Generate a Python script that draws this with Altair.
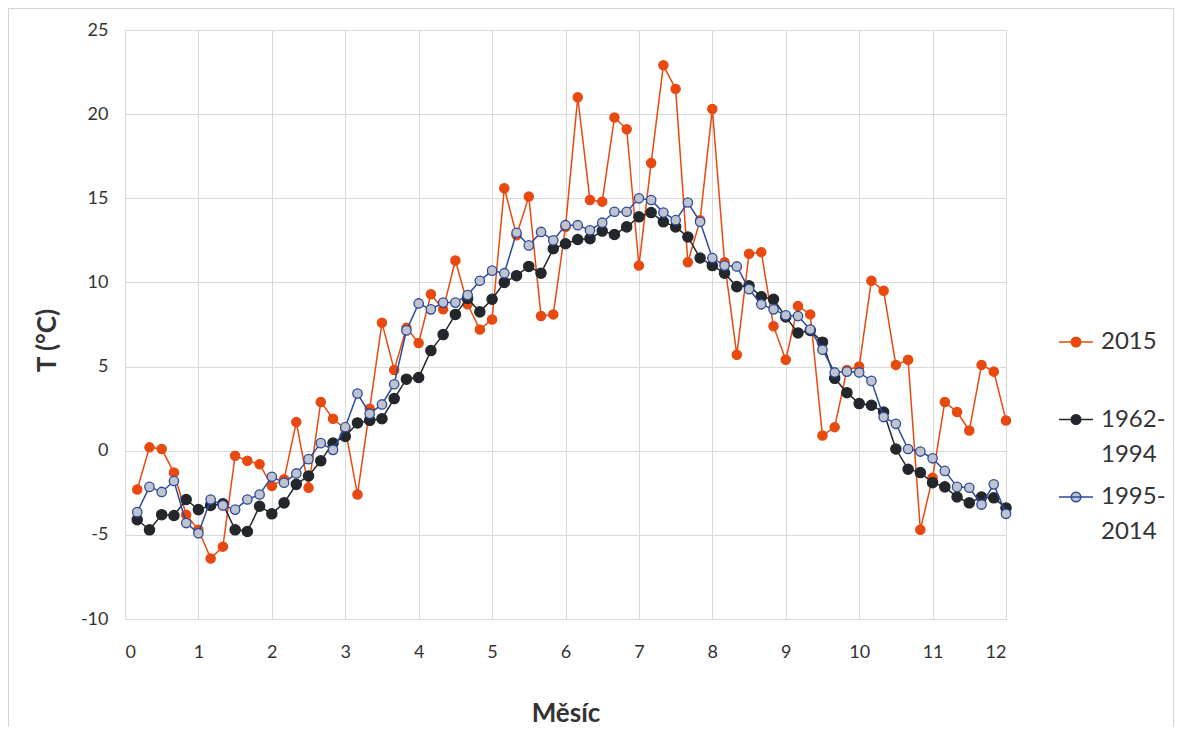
import altair as alt
import pandas as pd

# pentad positions (month units)
months = [k / 6 for k in range(1, 73)]

t_2015 = [-2.3, 0.2, 0.1, -1.3, -3.8, -4.7, -6.4, -5.7, -0.3, -0.6,
          -0.8, -2.1, -1.7, 1.7, -2.2, 2.9, 1.9, 1.3, -2.6, 2.5,
          7.6, 4.8, 7.3, 6.4, 9.3, 8.4, 11.3, 8.7, 7.2, 7.8,
          15.6, 12.8, 15.1, 8.0, 8.1, 13.3, 21.0, 14.9, 14.8, 19.8,
          19.1, 11.0, 17.1, 22.9, 21.5, 11.2, 13.7, 20.3, 11.2, 5.7,
          11.7, 11.8, 7.4, 5.4, 8.6, 8.1, 0.9, 1.4, 4.8, 5.0,
          10.1, 9.5, 5.1, 5.4, -4.7, -1.6, 2.9, 2.3, 1.2, 5.1,
          4.7, 1.8]

t_1962_1994 = [-4.1, -4.7, -3.8, -3.85, -2.9, -3.5, -3.25, -3.15, -4.7, -4.8,
               -3.3, -3.75, -3.1, -2.0, -1.5, -0.6, 0.45, 0.85, 1.65, 1.8,
               1.9, 3.1, 4.25, 4.35, 5.95, 6.9, 8.1, 9.05, 8.25, 9.0,
               10.0, 10.4, 10.95, 10.55, 12.0, 12.3, 12.55, 12.6, 13.05, 12.85,
               13.3, 13.9, 14.15, 13.6, 13.3, 12.7, 11.45, 11.0, 10.55, 9.75,
               9.8, 9.15, 9.0, 7.95, 7.0, 7.15, 6.45, 4.3, 3.45, 2.8,
               2.7, 2.3, 0.1, -1.1, -1.3, -1.9, -2.15, -2.75, -3.1, -2.75,
               -2.8, -3.4]

t_1995_2014 = [-3.65, -2.15, -2.45, -1.8, -4.3, -4.9, -2.9, -3.25, -3.5, -2.9,
               -2.6, -1.55, -1.9, -1.35, -0.5, 0.45, 0.05, 1.4, 3.4, 2.2,
               2.75, 3.95, 7.15, 8.75, 8.4, 8.8, 8.8, 9.25, 10.1, 10.7,
               10.55, 12.95, 12.2, 13.0, 12.5, 13.4, 13.4, 13.1, 13.55, 14.2,
               14.2, 15.0, 14.9, 14.15, 13.7, 14.75, 13.6, 11.45, 11.0, 10.95,
               9.6, 8.7, 8.4, 8.05, 8.0, 7.2, 6.0, 4.65, 4.7, 4.65,
               4.15, 2.0, 1.6, 0.1, -0.05, -0.45, -1.2, -2.15, -2.2, -3.2,
               -2.0, -3.75]

series_names = ["2015", "1962-1994", "1995-2014"]
line_colors = ["#E8490F", "#23272B", "#2C4A9C"]
fill_colors = ["#E8490F", "#23272B", "#BFC3CD"]
point_sizes = [85, 105, 88]
x_ticks = list(range(0, 13))
y_ticks = list(range(-10, 26, 5))

rows = []
for name, vals in zip(series_names, [t_2015, t_1962_1994, t_1995_2014]):
    for m, v in zip(months, vals):
        rows.append({"month": m, "t": v, "series": name})
df = pd.DataFrame(rows)

FONT = "Lato"
TEXT = "#333333"
GRID = "#D9D9D9"

# line + circle legend glyph
SYMBOL = "M-1,0L1,0M-0.28,0A0.28,0.28,0,1,1,0.28,0A0.28,0.28,0,1,1,-0.28,0Z"

legend = alt.Legend(
    title=None, orient="none", legendX=933, legendY=294, direction="vertical",
    symbolType=SYMBOL, symbolSize=1156, symbolStrokeWidth=1.5, symbolOpacity=1,
    labelFont=FONT, labelFontSize=24, labelColor=TEXT, labelOffset=7,
    labelBaseline="middle", labelLimit=300, rowPadding=12.5, padding=0,
    labelExpr="datum.label == '2015' ? '2015\\n' : replace(datum.label, '-', '-\\n')",
)

x_enc = alt.X("month:Q", scale=alt.Scale(domain=[0, 12], nice=False, zero=False),
              axis=alt.Axis(values=x_ticks, title="Měsíc", labelPadding=24,
                            titleX=440.5, titleY=94, titleBaseline="middle",
                            titleAlign="center"))
y_enc = alt.Y("t:Q", scale=alt.Scale(domain=[-10, 25], nice=False, zero=False),
              axis=alt.Axis(values=y_ticks, title="T (°C)", labelPadding=17,
                            labelExpr="'' + datum.value",
                            titleX=-77.5, titleY=310, titleAngle=270,
                            titleBaseline="middle", titleAlign="center"))

# light frame around the whole chart area (decoration)
frame = alt.Chart(pd.DataFrame({"frame": [0]})).mark_rect(
    fill=None, stroke="#D4D4D4", strokeWidth=1
).encode(x=alt.value(-116.5), x2=alt.value(1048.5), y=alt.value(-21.5), y2=alt.value(760))

base = alt.Chart(df)
layers = [frame]
for name, size in zip(series_names, point_sizes):
    sub = base.transform_filter(alt.datum.series == name)
    line = sub.mark_line(strokeWidth=1.5).encode(
        x=x_enc, y=y_enc,
        stroke=alt.Stroke("series:N", scale=alt.Scale(domain=series_names, range=line_colors),
                          legend=legend),
    )
    pts = sub.mark_point(filled=True, size=size, strokeWidth=1.3, opacity=1).encode(
        x=x_enc, y=y_enc,
        stroke=alt.Stroke("series:N", scale=alt.Scale(domain=series_names, range=line_colors),
                          legend=legend),
        fill=alt.Fill("series:N", scale=alt.Scale(domain=series_names, range=fill_colors),
                      legend=legend),
    )
    layers += [line, pts]

chart = alt.layer(*layers).properties(
    width=881, height=589,
    padding={"left": 117, "top": 22, "right": 168, "bottom": 108},
    autosize=alt.AutoSizeParams(type="none"),
    background="white",
).configure(
    lineBreak="\n",
    style={"guide-label": {"lineHeight": 35}},
).configure_view(stroke=None).configure_axis(
    domain=False, ticks=False, grid=True, gridColor=GRID, gridWidth=1,
    labelFont=FONT, labelFontSize=18, labelColor=TEXT,
    titleFont=FONT, titleFontSize=26, titleFontWeight="bold", titleColor=TEXT,
)

chart.save("out.html", embed_options={"renderer": "svg", "actions": False})
